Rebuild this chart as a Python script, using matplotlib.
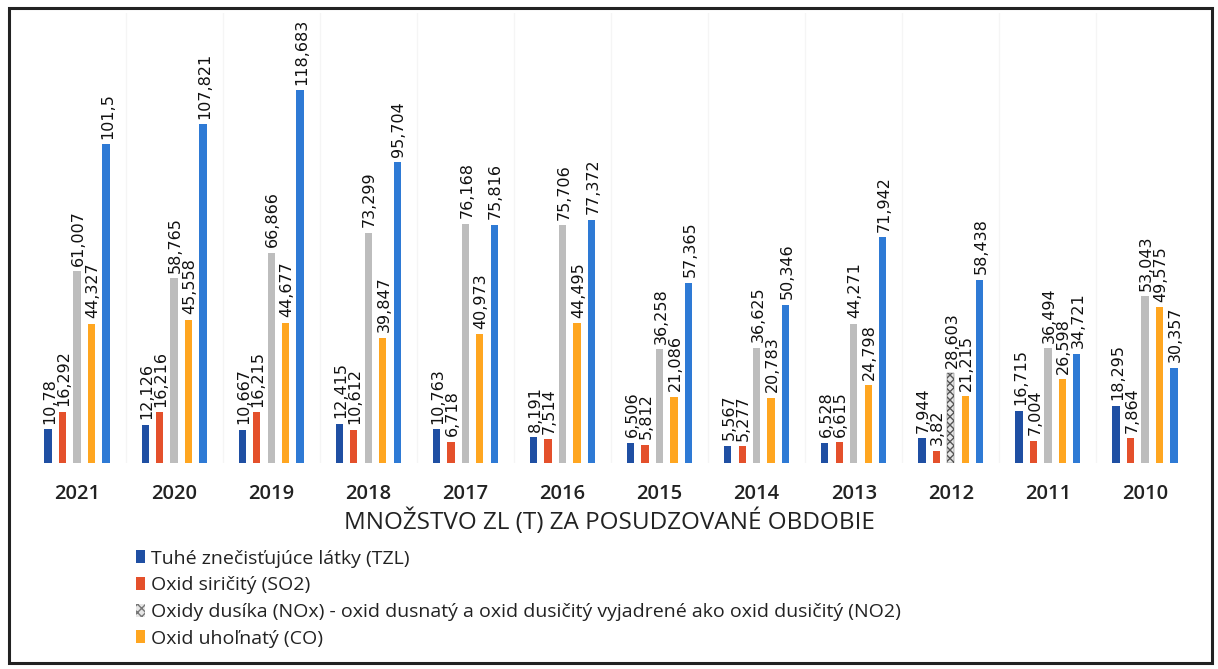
import matplotlib
matplotlib.use("Agg")
import matplotlib.pyplot as plt
from matplotlib.patches import Rectangle, Patch
import numpy as np

years = ["2021", "2020", "2019", "2018", "2017", "2016",
         "2015", "2014", "2013", "2012", "2011", "2010"]

tzl = [10.78, 12.126, 10.667, 12.415, 10.763, 8.191,
       6.506, 5.567, 6.528, 7.944, 16.715, 18.295]
so2 = [16.292, 16.216, 16.215, 10.612, 6.718, 7.514,
       5.812, 5.277, 6.615, 3.82, 7.004, 7.864]
nox = [61.007, 58.765, 66.866, 73.299, 76.168, 75.706,
       36.258, 36.625, 44.271, 28.603, 36.494, 53.043]
co = [44.327, 45.558, 44.677, 39.847, 40.973, 44.495,
      21.086, 20.783, 24.798, 21.215, 26.598, 49.575]
total = [101.5, 107.821, 118.683, 95.704, 75.816, 77.372,
         57.365, 50.346, 71.942, 58.438, 34.721, 30.357]

legend_labels = [
    "Tuhé znečisťujúce látky (TZL)",
    "Oxid siričitý (SO2)",
    "Oxidy dusíka (NOx) - oxid dusnatý a oxid dusičitý vyjadrené ako oxid dusičitý (NO2)",
    "Oxid uhoľnatý (CO)",
]
axis_title = "MNOŽSTVO ZL (T) ZA POSUDZOVANÉ OBDOBIE"

colors = ["#1F4FA3", "#E4502B", "#BDBDBD", "#FFA620", "#2E7AD5"]
series = [tzl, so2, nox, co, total]

label_font = ["DejaVu Sans"]
text_font = ["Open Sans", "DejaVu Sans"]

fig = plt.figure(figsize=(12.18, 6.69), dpi=100)

# outer frame
fig.patches.append(Rectangle((9 / 1218, 6 / 669), 1203 / 1218, 655 / 669,
                             transform=fig.transFigure, fill=False,
                             edgecolor="#222222", linewidth=2.2))

ax_left = 28.5 / 1218
ax_w = 1165 / 1218
ax_bottom = (669 - 463) / 669
ax_h = 450 / 669
ax = fig.add_axes([ax_left, ax_bottom, ax_w, ax_h])
ax.set_xlim(-0.5, len(years) - 0.5)
ax.set_ylim(0, 450 / 3.14)

x = np.arange(len(years))
step = 0.149
width = 0.075
offsets = (np.arange(5) - 2) * step

for k, (vals, col) in enumerate(zip(series, colors)):
    for i, v in enumerate(vals):
        hatch = None
        fc = col
        if k == 2 and years[i] == "2012":
            hatch = "xxxx"
            fc = "#E6E6E6"
        ax.bar(x[i] + offsets[k], v, width=width, color=fc, hatch=hatch,
               edgecolor="#555555" if hatch else col,
               linewidth=0.0 if not hatch else 0.3, zorder=3)
        ax.annotate(f"{v:g}".replace(".", ","), (x[i] + offsets[k], v),
                    xytext=(1, 4), textcoords="offset points",
                    rotation=90, ha="center", va="bottom",
                    fontsize=11.5, family=label_font, color="#111111", zorder=4)

# faint separators between year groups
for b in np.arange(0.5, len(years) - 0.5, 1.0):
    ax.axvline(b, color="#F5F5F5", linewidth=1.0, zorder=1)

for s in ax.spines.values():
    s.set_visible(False)
ax.set_yticks([])
ax.set_xticks(x)
ax.set_xticklabels(years, fontsize=14.5, family=text_font, fontweight="semibold",
                   color="#222222")
ax.tick_params(axis="x", length=0, pad=15)

fig.text(0.5, (669 - 522) / 669, axis_title, ha="center", va="center",
         fontsize=17.5, family=text_font, color="#222222")

handles = [Patch(facecolor=colors[0]), Patch(facecolor=colors[1]),
           Patch(facecolor="#E6E6E6", hatch="xxxx", edgecolor="#777777", linewidth=0),
           Patch(facecolor=colors[3])]
fig.legend(handles, legend_labels, loc="upper left",
           bbox_to_anchor=(118 / 1218, (669 - 532) / 669),
           frameon=False, handlelength=0.5, handleheight=0.65, handletextpad=0.3,
           labelspacing=0.45, prop={"family": text_font, "size": 14},
           labelcolor="#222222")

fig.savefig("out.png", dpi=100, facecolor="white")
